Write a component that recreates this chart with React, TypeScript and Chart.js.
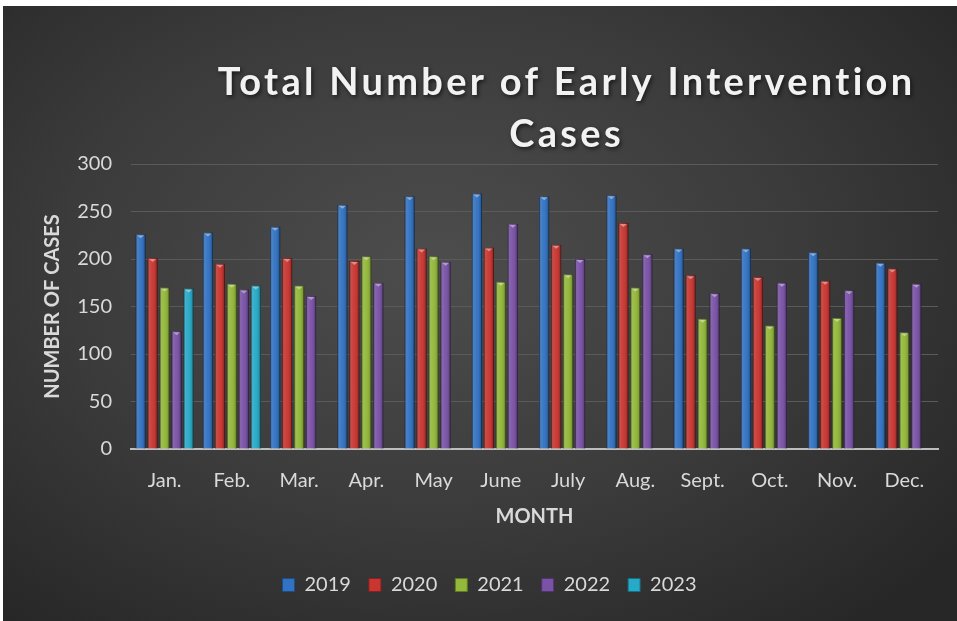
import React, { useEffect, useRef } from 'react';
import { Chart, registerables } from 'chart.js';

Chart.register(...registerables);

const months = ['Jan.', 'Feb.', 'Mar.', 'Apr.', 'May', 'June', 'July', 'Aug.', 'Sept.', 'Oct.', 'Nov.', 'Dec.'];
const years = ['2019', '2020', '2021', '2022', '2023'];
const cases2019 = [226, 228, 234, 257, 266, 269, 266, 267, 211, 211, 207, 196];
const cases2020 = [201, 195, 201, 198, 211, 212, 215, 238, 183, 181, 177, 190];
const cases2021 = [170, 174, 172, 203, 203, 176, 184, 170, 137, 130, 138, 123];
const cases2022 = [124, 168, 161, 175, 197, 237, 200, 205, 164, 175, 167, 174];
const cases2023 = [169, 172, null, null, null, null, null, null, null, null, null, null];
const yTickValues = [0, 50, 100, 150, 200, 250, 300];

const titleLines = ['Total Number of Early Intervention', 'Cases'];
const xAxisTitle = 'MONTH';
const yAxisTitle = 'NUMBER OF CASES';

const seriesColors = ['#3272c2', '#c93631', '#93b83a', '#7a52a6', '#27aac8'];
const seriesBorders = ['#1f4c85', '#8a211e', '#5f7a22', '#4f3470', '#176f85'];

const FONT = 'Lato, "Open Sans", sans-serif';

const cylinderPlugin = {
  id: 'cylinder',
  afterDatasetsDraw(chart: any) {
    const ctx = chart.ctx;
    ctx.save();
    chart.data.datasets.forEach((ds: any, i: number) => {
      const meta = chart.getDatasetMeta(i);
      if (meta.hidden) return;
      meta.data.forEach((bar: any, j: number) => {
        if (ds.data[j] == null) return;
        const { x, y, base, width } = bar.getProps(['x', 'y', 'base', 'width'], true);
        const l = x - width / 2;
        const g = ctx.createLinearGradient(l, 0, l + width, 0);
        g.addColorStop(0, 'rgba(0,0,0,0.35)');
        g.addColorStop(0.22, 'rgba(255,255,255,0.10)');
        g.addColorStop(0.45, 'rgba(255,255,255,0.04)');
        g.addColorStop(0.8, 'rgba(0,0,0,0.10)');
        g.addColorStop(1, 'rgba(0,0,0,0.38)');
        ctx.fillStyle = g;
        ctx.fillRect(l, y, width, base - y);
        ctx.fillStyle = 'rgba(255,255,255,0.4)';
        ctx.beginPath();
        ctx.moveTo(l + 1.5, y + 1);
        ctx.lineTo(l + width - 1.5, y + 1);
        ctx.lineTo(x, y + 4);
        ctx.closePath();
        ctx.fill();
      });
    });
    ctx.restore();
  },
};

const titlePlugin = {
  id: 'customTitle',
  afterDraw(chart: any) {
    const ctx = chart.ctx;
    ctx.save();
    ctx.font = `bold 38px ${FONT}`;
    ctx.fillStyle = '#f2f2f2';
    ctx.textAlign = 'center';
    ctx.textBaseline = 'alphabetic';
    (ctx as any).letterSpacing = '0px';
    const w0 = ctx.measureText(titleLines[0]).width;
    const spacing = Math.max(0, (695 - w0) / (titleLines[0].length - 1));
    (ctx as any).letterSpacing = `${spacing}px`;
    ctx.shadowColor = 'rgba(0,0,0,0.6)';
    ctx.shadowBlur = 4;
    ctx.shadowOffsetX = 1.5;
    ctx.shadowOffsetY = 2;
    const cx = 562 + spacing / 2;
    ctx.fillText(titleLines[0], cx, 89);
    ctx.fillText(titleLines[1], cx, 141);
    ctx.restore();
  },
};

export default function App() {
  const ref = useRef<HTMLCanvasElement>(null);

  useEffect(() => {
    const canvas = ref.current;
    if (!canvas) return;
    const allSeries = [cases2019, cases2020, cases2021, cases2022, cases2023];
    const chart = new Chart(canvas, {
      type: 'bar',
      data: {
        labels: months,
        datasets: years.map((yr, i) => ({
          label: yr,
          data: allSeries[i],
          backgroundColor: seriesColors[i],
          borderColor: seriesBorders[i],
          borderWidth: 1,
          categoryPercentage: 0.89,
          barPercentage: 0.85,
        })),
      },
      options: {
        responsive: false,
        animation: false,
        layout: { padding: { top: 158, right: 19, left: 38, bottom: 16 } },
        plugins: {
          title: { display: false },
          tooltip: { enabled: false },
          legend: {
            position: 'bottom',
            labels: {
              color: '#d9d9d9',
              font: { family: FONT, size: 20 },
              boxWidth: 12,
              boxHeight: 13,
              padding: 18,
            },
          },
        },
        scales: {
          x: {
            grid: { display: false, drawTicks: false },
            border: { display: true, color: '#bdbdbd', width: 2 },
            ticks: { color: '#d9d9d9', font: { family: FONT, size: 20 }, padding: 20, maxRotation: 0 },
            title: {
              display: true,
              text: xAxisTitle,
              color: '#d9d9d9',
              font: { family: FONT, size: 20, weight: 'bold' },
              padding: { top: 0, bottom: 28 },
            },
            afterFit: (scale: any) => {
              scale.height = 108;
            },
          },
          y: {
            min: 0,
            max: 300,
            afterBuildTicks: (scale: any) => {
              scale.ticks = yTickValues.map((v) => ({ value: v }));
            },
            grid: { color: '#5a5a5a', lineWidth: 1, drawTicks: false },
            border: { display: false },
            ticks: { color: '#d9d9d9', font: { family: FONT, size: 20 }, padding: 19 },
            title: {
              display: true,
              text: yAxisTitle,
              color: '#d9d9d9',
              font: { family: FONT, size: 20, weight: 'bold' },
              padding: { top: 0, bottom: 0 },
            },
            afterFit: (scale: any) => {
              scale.width = 90;
            },
          },
        },
      } as any,
      plugins: [cylinderPlugin, titlePlugin],
    });
    return () => chart.destroy();
  }, []);

  return (
    <div
      style={{
        position: 'absolute',
        left: 3,
        top: 6,
        width: 954,
        height: 615,
        background:
          'radial-gradient(ellipse 70% 75% at 45% 42%, #4d4d4d 0%, #3b3b3b 55%, #272727 100%)',
      }}
    >
      <canvas ref={ref} width={954} height={615} style={{ display: 'block' }} />
    </div>
  );
}
